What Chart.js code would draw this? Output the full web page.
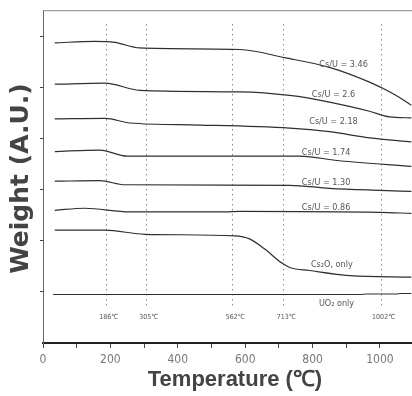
<!DOCTYPE html>
<html>
<head>
<meta charset="utf-8">
<script src="https://cdn.jsdelivr.net/npm/chart.js@4.4.1/dist/chart.umd.min.js"></script>
<style>
  body { margin: 0; background: #fff; }
  #wrap { width: 412px; height: 396px; }
</style>
</head>
<body>
<div id="wrap"><canvas id="tga" width="412" height="396"></canvas></div>
<script>
// temperatures (°C) and weights (A.U., stacked offsets)
const temps346 = [35, 154, 213, 287, 584, 717, 850, 969, 1043, 1093];
const w346     = [5.88, 5.91, 5.89, 5.78, 5.75, 5.59, 5.40, 5.11, 4.87, 4.66];
const temps26  = [35, 184, 287, 584, 732, 850, 969, 1028, 1093];
const w26      = [5.07, 5.09, 4.95, 4.92, 4.85, 4.72, 4.54, 4.43, 4.41];
const temps218 = [35, 184, 258, 465, 732, 850, 969, 1093];
const w218     = [4.39, 4.40, 4.31, 4.27, 4.21, 4.14, 4.02, 3.94];
const temps174 = [35, 169, 249, 761, 880, 1093];
const w174     = [3.75, 3.78, 3.66, 3.66, 3.57, 3.46];
const temps130 = [35, 169, 243, 732, 850, 999, 1093];
const w130     = [3.17, 3.18, 3.10, 3.09, 3.03, 2.99, 2.97];
const temps086 = [35, 124, 258, 539, 584, 999, 1093];
const w086     = [2.60, 2.64, 2.57, 2.57, 2.58, 2.56, 2.54];
const tempsCs  = [35, 184, 302, 569, 613, 658, 708, 732, 791, 910, 1093];
const wCs      = [2.21, 2.21, 2.13, 2.10, 2.04, 1.84, 1.57, 1.48, 1.42, 1.32, 1.29];
const tempsU   = [30, 940, 960, 1050, 1060, 1093];
const wU       = [0.95, 0.95, 0.96, 0.96, 0.97, 0.97];

const seriesNames = ['Cs/U = 3.46', 'Cs/U = 2.6', 'Cs/U = 2.18', 'Cs/U = 1.74',
                     'Cs/U = 1.30', 'Cs/U = 0.86', 'Cs\u2082O, only', 'UO\u2082 only'];
// label anchor (temperature, weight) for each curve name
const labelTemps = [892, 862, 862, 840, 840, 840, 857, 871];
const labelW     = [5.46, 4.86, 4.34, 3.73, 3.15, 2.66, 1.53, 0.78];

// characteristic temperatures marked with dotted lines
const markTemps = [186, 305, 562, 713, 1002];
const markNames = ['186\u2103', '305\u2103', '562\u2103', '713\u2103', '1002\u2103'];

// axis ticks: x every 100 (labels every 200), y unlabelled
const xTicks = [0, 100, 200, 300, 400, 500, 600, 700, 800, 900, 1000];
const xTickLabels = ['0', '', '200', '', '400', '', '600', '', '800', '', '1000'];
const yTicks = [1, 2, 3, 4, 5, 6];

const xTitle = 'Temperature (\u2103)';
const yTitle = 'Weight (A.U.)';

const allTemps = [temps346, temps26, temps218, temps174, temps130, temps086, tempsCs, tempsU];
const allW = [w346, w26, w218, w174, w130, w086, wCs, wU];

const datasets = allTemps.map((t, i) => ({
  label: seriesNames[i],
  data: t.map((x, j) => ({ x: x, y: allW[i][j] })),
  borderColor: '#2f2f2f',
  borderWidth: 1.2,
  pointRadius: 0,
  fill: false,
  cubicInterpolationMode: 'monotone'
}));

const narrow = '"Liberation Sans Narrow", "DejaVu Sans Condensed", sans-serif';

const annotate = {
  id: 'annotate',
  beforeDatasetsDraw(chart) {
    const { ctx, chartArea, scales: { x, y } } = chart;
    ctx.save();
    // top frame line
    ctx.strokeStyle = '#888';
    ctx.lineWidth = 1;
    ctx.beginPath();
    ctx.moveTo(chartArea.left, chartArea.top + 0.5);
    ctx.lineTo(chartArea.right, chartArea.top + 0.5);
    ctx.stroke();
    // dotted marker lines
    ctx.strokeStyle = '#8a8a8a';
    ctx.setLineDash([1.5, 3.5]);
    markTemps.forEach(t => {
      const px = Math.round(x.getPixelForValue(t)) + 0.5;
      ctx.beginPath();
      ctx.moveTo(px, y.getPixelForValue(6.25));
      ctx.lineTo(px, y.getPixelForValue(0.7));
      ctx.stroke();
    });
    ctx.setLineDash([]);
    ctx.restore();
  },
  afterDatasetsDraw(chart) {
    const { ctx, chartArea, scales: { x, y } } = chart;
    ctx.save();
    ctx.fillStyle = '#555';
    ctx.textAlign = 'center';
    ctx.textBaseline = 'middle';
    ctx.font = '9px ' + narrow;
    seriesNames.forEach((name, i) => {
      ctx.fillText(name, x.getPixelForValue(labelTemps[i]), y.getPixelForValue(labelW[i]));
    });
    ctx.font = '7px ' + narrow;
    markTemps.forEach((t, i) => {
      ctx.fillText(markNames[i], x.getPixelForValue(t) + 3, y.getPixelForValue(0.5));
    });
    // axis titles
    ctx.fillStyle = '#444';
    ctx.font = 'bold 22px "Liberation Sans", sans-serif';
    ctx.textBaseline = 'alphabetic';
    ctx.fillText(xTitle, chartArea.left + 192, 386);
    ctx.translate(21, (chartArea.top + chartArea.bottom) / 2 + 2);
    ctx.rotate(-Math.PI / 2);
    ctx.textBaseline = 'middle';
    ctx.font = 'bold 25px "DejaVu Sans", sans-serif';
    ctx.fillText(yTitle, 0, 0);
    ctx.restore();
  }
};

new Chart(document.getElementById('tga').getContext('2d'), {
  type: 'line',
  data: { datasets: datasets },
  options: {
    responsive: false,
    animation: false,
    layout: { padding: { top: 7, right: 0, left: 0, bottom: 0 } },
    plugins: { legend: { display: false }, tooltip: { enabled: false } },
    scales: {
      x: {
        type: 'linear',
        min: 0,
        max: 1095,
        afterBuildTicks(s) { s.ticks = xTicks.map(v => ({ value: v })); },
        afterFit(s) { s.height = 53; },
        border: { color: '#222', width: 2 },
        grid: { drawOnChartArea: false, drawTicks: true, tickLength: 5, color: '#444' },
        ticks: {
          autoSkip: false,
          maxRotation: 0,
          padding: 5,
          color: '#777',
          font: { family: narrow, size: 12 },
          callback: (v, i) => xTickLabels[i]
        }
      },
      y: {
        type: 'linear',
        min: 0,
        max: 6.52,
        afterBuildTicks(s) { s.ticks = yTicks.map(v => ({ value: v })); },
        afterFit(s) { s.width = 43; },
        border: { color: '#666', width: 1 },
        grid: { drawOnChartArea: false, drawTicks: true, tickLength: 3, color: '#444' },
        ticks: { autoSkip: false, callback: () => '' }
      }
    }
  },
  plugins: [annotate]
});
</script>
</body>
</html>
